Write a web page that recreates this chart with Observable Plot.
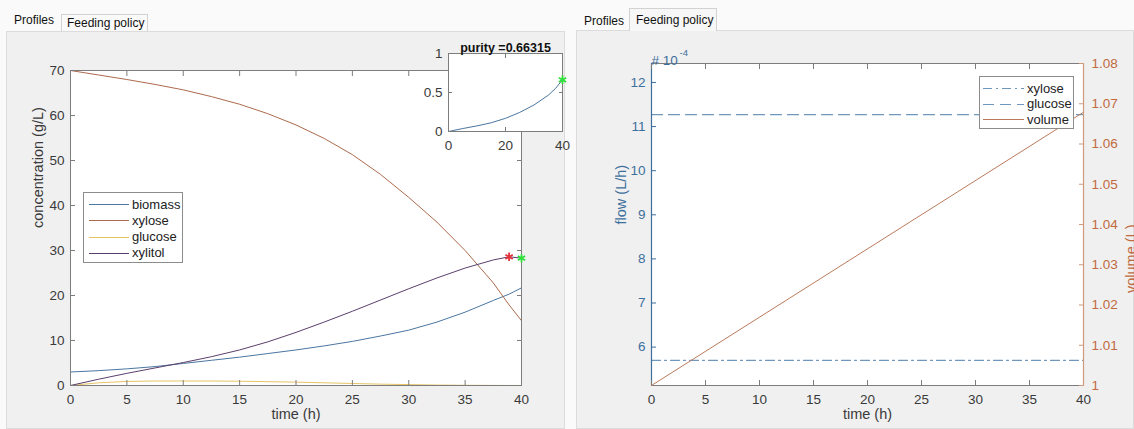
<!DOCTYPE html>
<html>
<head>
<meta charset="utf-8">
<script src="https://cdn.jsdelivr.net/npm/d3@7"></script>
<script src="https://cdn.jsdelivr.net/npm/@observablehq/plot@0.6"></script>
<style>
  html, body { margin: 0; padding: 0; }
  body { width: 1134px; height: 429px; background: #fafafa; position: relative; overflow: hidden;
         font-family: "Liberation Sans", Arial, Helvetica, sans-serif; }
  .content { position: absolute; background: #f0f0f0; border: 1px solid #dcdcdc; box-sizing: border-box; }
  .tab { position: absolute; font-size: 12px; color: #111; white-space: nowrap; box-sizing: border-box; }
  .tabbox { border: 1px solid #d2d2d2; border-bottom: none; background: #fafafa; }
  .legend { position: absolute; background: #fff; border: 1px solid #8c8c8c; box-sizing: border-box;
            font-size: 13px; color: #222; }
  .legend .row { position: absolute; left: 0; height: 16px; display: flex; align-items: center; }
  .legend svg { display: block; }
  svg { overflow: visible; }
</style>
</head>
<body>
<script>
// ---------------- data ----------------
// Profiles tab (left)
const time     = [0, 2.5, 5, 7.5, 10, 12.5, 15, 17.5, 20, 22.5, 25, 27.5, 30, 32.5, 35, 37.5, 38.9, 40];
const biomass  = [3.0, 3.3, 3.7, 4.2, 4.9, 5.6, 6.3, 7.1, 7.9, 8.8, 9.8, 11.0, 12.3, 14.1, 16.3, 18.9, 20.3, 21.7];
const xylose   = [70, 69.0, 68.0, 66.9, 65.7, 64.2, 62.5, 60.4, 57.9, 54.9, 51.3, 46.9, 41.8, 36.3, 30.0, 22.8, 17.9, 14.4];
const glucose  = [0, 0.6, 0.9, 1.0, 1.0, 1.0, 0.95, 0.85, 0.75, 0.6, 0.45, 0.3, 0.2, 0.1, 0.05, 0.02, 0.01, 0.01];
const xylitol  = [0, 1.4, 2.7, 3.9, 5.1, 6.4, 7.9, 9.7, 11.8, 14.1, 16.5, 19.0, 21.5, 23.9, 26.1, 27.9, 28.6, 28.3];
const seriesNames = ["biomass", "xylose", "glucose", "xylitol"];
const xTicks = [0, 5, 10, 15, 20, 25, 30, 35, 40];
const concTicks = [0, 10, 20, 30, 40, 50, 60, 70];
// markers: maximum xylitol (red) and final point (green)
const peakPoint  = [{t: 38.9, c: 28.6}];
const finalPoint = [{t: 40, c: 28.3}];

// inset: purity
const purityTime = [0, 5, 10, 15, 20, 25, 30, 35, 37.5, 40];
const purity     = [0, 0.038, 0.072, 0.112, 0.169, 0.245, 0.34, 0.465, 0.55, 0.663];
const purityFinal = [{t: 40, p: 0.663}];
const purityTitle = "purity =0.66315";
const purityXTicks = [0, 20, 40];
const purityYTicks = [0, 0.5, 1];

// Feeding policy tab (right); flows in units of 1e-4 L/h
const feedTime    = [0, 40];
const xyloseFlow  = [5.7, 5.7];
const glucoseFlow = [11.27, 11.27];
const volume      = [1.0, 1.0679];
const flowTicks   = [6, 7, 8, 9, 10, 11, 12];
const volumeTicks = [1, 1.01, 1.02, 1.03, 1.04, 1.05, 1.06, 1.07, 1.08];
const feedNames   = ["xylose", "glucose", "volume"];

// ---------------- style ----------------
const FONT = '"Liberation Sans", Arial, Helvetica, sans-serif';
const AXIS_GRAY = "#7d7d7d";
const TEXT_GRAY = "#3a3a3a";
const seriesColors = {biomass: "#4a76a0", xylose: "#ad6a4c", glucose: "#e6c466", xylitol: "#5a3f6c"};
const FLOW_BLUE = "#6f96bb";
const LEFT_AXIS_BLUE = "#3d6f9c";
const VOL_LINE = "#bb7a5c";
const VOL_AXIS = "#c06a3f";
const VOL_AXIS_LINE = "#cf9a7e";
const fmt = d => String(+(+d).toFixed(2));

function style() {
  return {background: "transparent", fontSize: "13.5px", fontFamily: FONT, color: TEXT_GRAY, overflow: "visible"};
}
function place(el, left, top) {
  el.style.position = "absolute";
  el.style.left = left + "px";
  el.style.top = top + "px";
  document.body.appendChild(el);
  return el;
}
function div(cls, css, html) {
  const d = document.createElement("div");
  d.className = cls;
  Object.assign(d.style, css);
  if (html != null) d.innerHTML = html;
  document.body.appendChild(d);
  return d;
}

// ---------------- panels & tabs ----------------
div("content", {left: "6px", top: "31px", width: "559px", height: "398px"});
div("content", {left: "576px", top: "30px", width: "558px", height: "399px"});
div("tab", {left: "14px", top: "12px", height: "18px", lineHeight: "16px"}, "Profiles");
div("tab tabbox", {left: "61px", top: "14px", width: "87px", height: "17px", lineHeight: "16px", paddingLeft: "5px"}, "Feeding policy");
div("tab", {left: "584px", top: "13px", height: "18px", lineHeight: "16px"}, "Profiles");
div("tab tabbox", {left: "629px", top: "8px", width: "88px", height: "23px", lineHeight: "22px", paddingLeft: "6px", background: "#f7f7f7"}, "Feeding policy");

// ---------------- left chart ----------------
const rows = time.map((t, i) => ({t, biomass: biomass[i], xylose: xylose[i], glucose: glucose[i], xylitol: xylitol[i]}));

const leftChart = Plot.plot({
  width: 566, height: 429,
  marginLeft: 70, marginRight: 45, marginTop: 70, marginBottom: 44,
  style: style(),
  x: {domain: [0, 40], label: null},
  y: {domain: [0, 70], label: null},
  marks: [
    Plot.frame({fill: "white", stroke: null}),
    ...seriesNames.map(k => Plot.line(rows, {x: "t", y: k, stroke: seriesColors[k], strokeWidth: 1})),
    Plot.frame({stroke: AXIS_GRAY}),
    Plot.axisX({anchor: "bottom", ticks: xTicks, tickSize: -5, tickPadding: 14, tickFormat: fmt, label: null, stroke: AXIS_GRAY, fill: TEXT_GRAY}),
    Plot.axisX({anchor: "top", ticks: xTicks, tickSize: -5, tickFormat: () => "", label: null, stroke: AXIS_GRAY}),
    Plot.axisY({anchor: "left", ticks: concTicks, tickSize: -5, tickPadding: 11, tickFormat: fmt, label: null, stroke: AXIS_GRAY, fill: TEXT_GRAY}),
    Plot.axisY({anchor: "right", ticks: concTicks, tickSize: -5, tickFormat: () => "", label: null, stroke: AXIS_GRAY}),
    Plot.dot(peakPoint, {x: "t", y: "c", symbol: "asterisk", r: 4, stroke: "#e0343c", strokeWidth: 1.8}),
    Plot.dot(finalPoint, {x: "t", y: "c", symbol: "asterisk", r: 4, stroke: "#2fe03a", strokeWidth: 1.8}),
    Plot.text(["time (h)"], {frameAnchor: "bottom", dy: 33, fill: TEXT_GRAY, fontSize: 14.5}),
    Plot.text(["concentration (g/L)"], {frameAnchor: "left", dx: -32, rotate: -90, fill: TEXT_GRAY, fontSize: 14.5})
  ]
});
place(leftChart, 0, 0);

// legend (left)
(function () {
  const lg = div("legend", {left: "83px", top: "192px", width: "100px", height: "71px"});
  seriesNames.forEach((k, i) => {
    const r = document.createElement("div");
    r.className = "row";
    r.style.top = (3 + i * 16.3) + "px";
    r.innerHTML = `<svg width="48" height="16"><line x1="5" x2="45" y1="8.5" y2="8.5" stroke="${seriesColors[k]}" stroke-width="1"/></svg><span>${k}</span>`;
    lg.appendChild(r);
  });
})();

// ---------------- inset (purity) ----------------
const purityRows = purityTime.map((t, i) => ({t, p: purity[i]}));
const inset = Plot.plot({
  width: 164, height: 140,
  marginLeft: 40, marginRight: 10, marginTop: 33, marginBottom: 29,
  style: style(),
  x: {domain: [0, 40], label: null},
  y: {domain: [0, 1], label: null},
  marks: [
    Plot.frame({fill: "white", stroke: null}),
    Plot.line(purityRows, {x: "t", y: "p", stroke: seriesColors.biomass, strokeWidth: 1}),
    Plot.frame({stroke: AXIS_GRAY}),
    Plot.axisX({anchor: "bottom", ticks: purityXTicks, tickSize: -4, tickPadding: 13, tickFormat: fmt, label: null, stroke: AXIS_GRAY, fill: TEXT_GRAY}),
    Plot.axisX({anchor: "top", ticks: purityXTicks, tickSize: -4, tickFormat: () => "", label: null, stroke: AXIS_GRAY}),
    Plot.axisY({anchor: "left", ticks: purityYTicks, tickSize: -4, tickPadding: 10, tickFormat: fmt, label: null, stroke: AXIS_GRAY, fill: TEXT_GRAY}),
    Plot.axisY({anchor: "right", ticks: purityYTicks, tickSize: -4, tickFormat: () => "", label: null, stroke: AXIS_GRAY}),
    Plot.dot(purityFinal, {x: "t", y: "p", symbol: "asterisk", r: 4, stroke: "#2fe03a", strokeWidth: 1.8}),
    Plot.text([purityTitle], {frameAnchor: "top", dy: -10, fontWeight: "bold", fill: "#111", fontSize: 12.5})
  ]
});
place(inset, 408, 20);

// ---------------- right chart (feeding policy) ----------------
const feedRows = feedTime.map((t, i) => ({t, xylose: xyloseFlow[i], glucose: glucoseFlow[i], volume: volume[i]}));
const R = {width: 564, height: 429, marginLeft: 81, marginRight: 51, marginTop: 63, marginBottom: 44};

const flowChart = Plot.plot({
  ...R,
  style: style(),
  x: {domain: [0, 40], label: null},
  y: {domain: [5.13, 12.43], label: null},
  marks: [
    Plot.frame({fill: "white", stroke: null}),
    Plot.line(feedRows, {x: "t", y: "xylose", stroke: FLOW_BLUE, strokeWidth: 1.2, strokeDasharray: "9,4,2,4"}),
    Plot.line(feedRows, {x: "t", y: "glucose", stroke: FLOW_BLUE, strokeWidth: 1.2, strokeDasharray: "11,6"}),
    Plot.frame({stroke: AXIS_GRAY}),
    Plot.ruleX([d3.min(feedTime)], {stroke: LEFT_AXIS_BLUE, strokeWidth: 1.2}),
    Plot.axisX({anchor: "bottom", ticks: xTicks, tickSize: -5, tickPadding: 14, tickFormat: fmt, label: null, stroke: AXIS_GRAY, fill: TEXT_GRAY}),
    Plot.axisX({anchor: "top", ticks: xTicks, tickSize: -5, tickFormat: () => "", label: null, stroke: AXIS_GRAY}),
    Plot.axisY({anchor: "left", ticks: flowTicks, tickSize: -5, tickPadding: 11, tickFormat: fmt, label: null, stroke: LEFT_AXIS_BLUE, fill: LEFT_AXIS_BLUE}),
    Plot.text(["# 10"], {frameAnchor: "top-left", textAnchor: "start", dy: -8, dx: 0, fill: LEFT_AXIS_BLUE, fontSize: 13.5}),
    Plot.text(["-4"], {frameAnchor: "top-left", textAnchor: "start", dy: -14, dx: 28, fill: LEFT_AXIS_BLUE, fontSize: 9.5}),
    Plot.text(["time (h)"], {frameAnchor: "bottom", dy: 33, fill: TEXT_GRAY, fontSize: 14.5}),
    Plot.text(["flow (L/h)"], {frameAnchor: "left", dx: -30, rotate: -90, fill: LEFT_AXIS_BLUE, fontSize: 14.5})
  ]
});
place(flowChart, 570, 0);

const volChart = Plot.plot({
  ...R,
  style: style(),
  x: {domain: [0, 40], label: null, axis: null},
  y: {domain: [1, 1.08], label: null},
  marks: [
    Plot.line(feedRows, {x: "t", y: "volume", stroke: VOL_LINE, strokeWidth: 1}),
    Plot.ruleX([d3.max(feedTime)], {stroke: VOL_AXIS_LINE, strokeWidth: 1.2}),
    Plot.axisY({anchor: "right", ticks: volumeTicks, tickSize: -5, tickPadding: 13, label: null,
                tickFormat: fmt, stroke: VOL_AXIS_LINE, fill: VOL_AXIS}),
    Plot.text(["volume (L)"], {frameAnchor: "right", dx: 48, rotate: -90, fill: VOL_AXIS, fontSize: 14.5})
  ]
});
place(volChart, 570, 0);

// legend (right)
(function () {
  const dash = {xylose: "9,4,2,4", glucose: "11,6", volume: null};
  const col = {xylose: FLOW_BLUE, glucose: FLOW_BLUE, volume: VOL_LINE};
  const lg = div("legend", {left: "979px", top: "76px", width: "95px", height: "53px"});
  feedNames.forEach((k, i) => {
    const r = document.createElement("div");
    r.className = "row";
    r.style.top = (3 + i * 15.5) + "px";
    r.innerHTML = `<svg width="47" height="16"><line x1="3" x2="44" y1="8.5" y2="8.5" stroke="${col[k]}" stroke-width="1.2" ${dash[k] ? `stroke-dasharray="${dash[k]}"` : ""}/></svg><span>${k}</span>`;
    lg.appendChild(r);
  });
})();
</script>
</body>
</html>
